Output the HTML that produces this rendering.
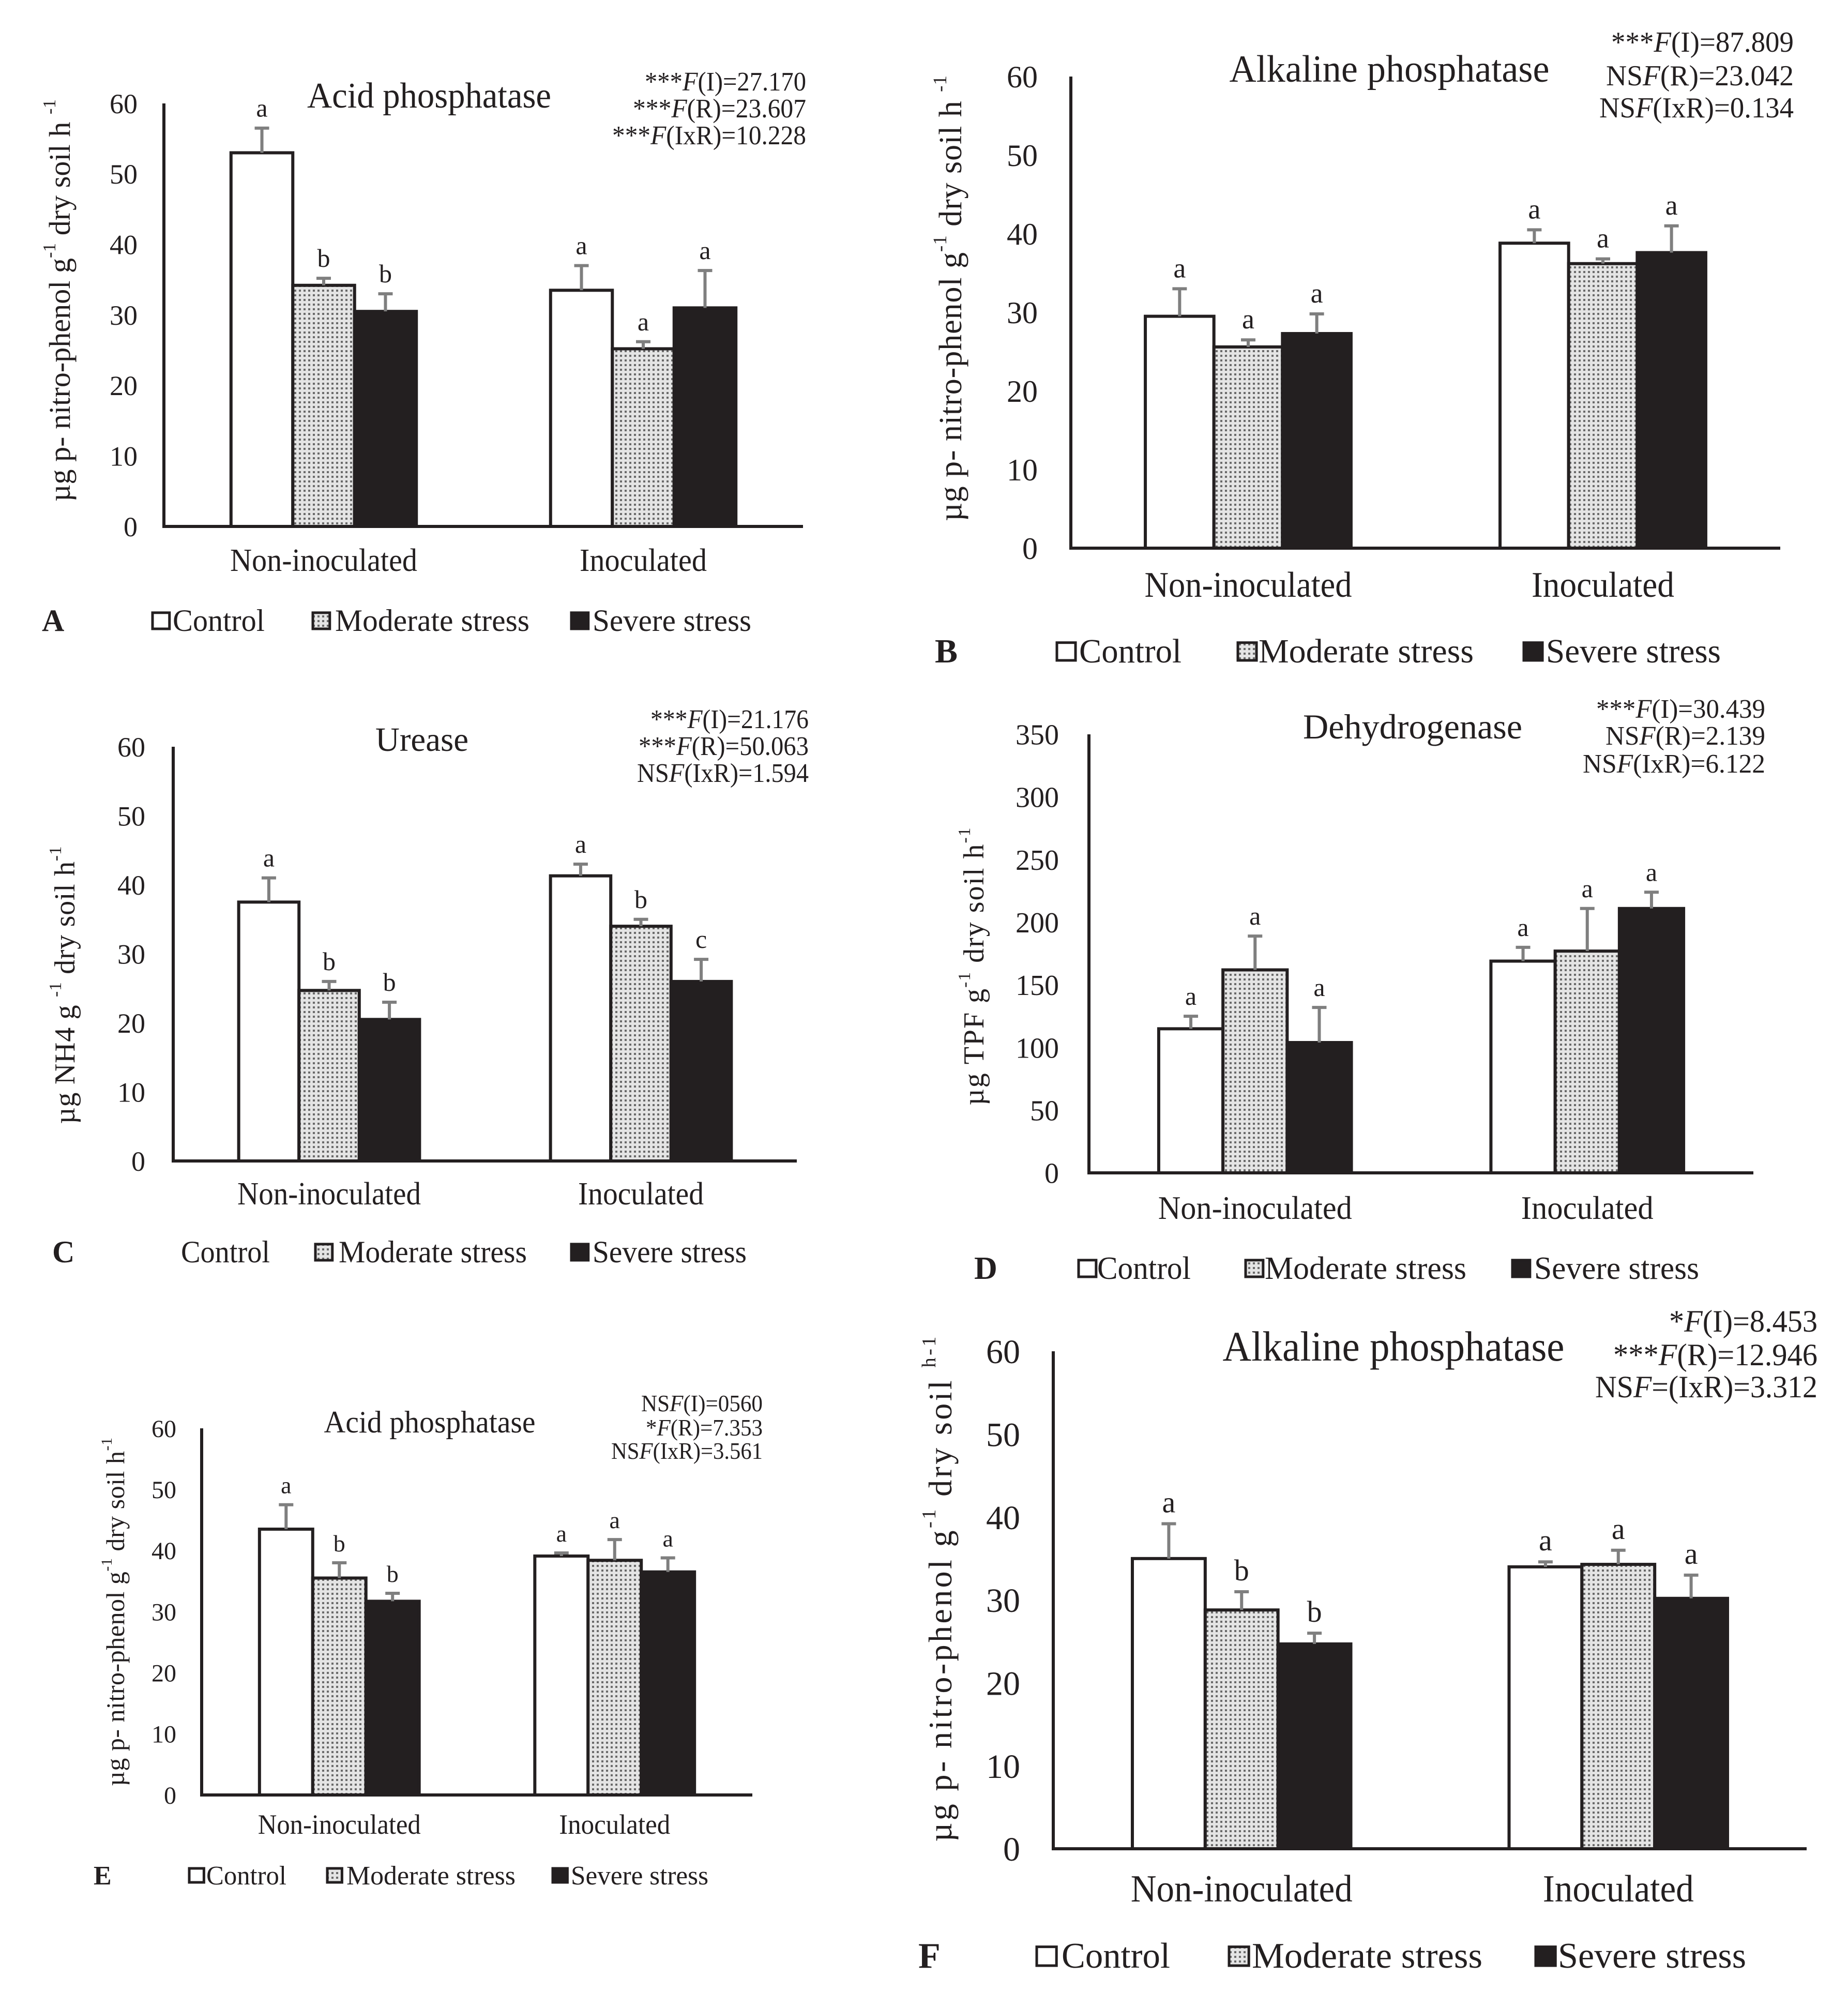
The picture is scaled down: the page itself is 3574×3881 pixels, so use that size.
<!DOCTYPE html>
<html><head><meta charset="utf-8"><style>
html,body{margin:0;padding:0;background:#fff;}
svg{display:block;font-family:"Liberation Serif","Times New Roman",serif;}
</style></head><body>
<svg id="fig" xmlns="http://www.w3.org/2000/svg" width="3574" height="3881" viewBox="0 0 3574 3881">
<defs>
<pattern id="dots" width="9" height="9" patternUnits="userSpaceOnUse">
<rect width="9" height="9" fill="#e4e4e4"/><rect x="2" y="2" width="4" height="4" fill="#6a6a6a"/>
</pattern>
</defs>
<rect width="3574" height="3881" fill="#fff"/>
</svg>
<script>
// ---------- DATA ----------
const categories = ["Non-inoculated","Inoculated"];
const seriesNames = ["Control","Moderate stress","Severe stress"];

const A_control = [53, 33.5];   const A_moderate = [34.2, 25.2]; const A_severe = [30.5, 31];
const A_errControl = [3.5, 3.5]; const A_errModerate = [1, 1];   const A_errSevere = [2.5, 5.3];
const A_letters = ["a","b","b","a","a","a"];
const A_ticks = [0,10,20,30,40,50,60];

const B_control = [29.5, 38.8]; const B_moderate = [25.6, 36.2]; const B_severe = [27.3, 37.6];
const B_errControl = [3.5, 1.7]; const B_errModerate = [0.9, 0.6]; const B_errSevere = [2.5, 3.4];
const B_letters = ["a","a","a","a","a","a"];
const B_ticks = [0,10,20,30,40,50,60];

const C_control = [37.5, 41.3]; const C_moderate = [24.7, 34]; const C_severe = [20.5, 26];
const C_errControl = [3.5, 1.7]; const C_errModerate = [1.3, 1]; const C_errSevere = [2.5, 3.2];
const C_letters = ["a","b","b","a","b","c"];
const C_ticks = [0,10,20,30,40,50,60];

const D_control = [115, 169]; const D_moderate = [162, 177]; const D_severe = [104, 211];
const D_errControl = [10, 11]; const D_errModerate = [27, 34]; const D_errSevere = [28, 13];
const D_letters = ["a","a","a","a","a","a"];
const D_ticks = [0,50,100,150,200,250,300,350];

const E_control = [43.5, 39.1]; const E_moderate = [35.5, 38.4]; const E_severe = [31.7, 36.5];
const E_errControl = [4, 0.5]; const E_errModerate = [2.5, 3.4]; const E_errSevere = [1.3, 2.3];
const E_letters = ["a","b","b","a","a","a"];
const E_ticks = [0,10,20,30,40,50,60];

const F_control = [35, 34]; const F_moderate = [28.8, 34.3]; const F_severe = [24.7, 30.2];
const F_errControl = [4.2, 0.6]; const F_errModerate = [2.2, 1.7]; const F_errSevere = [1.3, 2.8];
const F_letters = ["a","b","b","a","a","a"];
const F_ticks = [0,10,20,30,40,50,60];

// ---------- LAYOUT ----------
const NS = "http://www.w3.org/2000/svg";
const svg = document.getElementById("fig");
function el(tag, attrs, parent){ const e=document.createElementNS(NS,tag); for(const k in attrs) e.setAttribute(k,attrs[k]); (parent||svg).appendChild(e); return e; }

const panels = [
 {id:"a", letter:"A", vals:[A_control,A_moderate,A_severe], errs:[A_errControl,A_errModerate,A_errSevere], letters:A_letters, ticks:A_ticks,
  x0:317,x1:1553,yT:200,yB:1018, tickX:266,tickF:54, title:"Acid phosphatase", tX:830,tY:208,tF:70,tW:472,
  stats:[["***","F","(I)=27.170"],["***","F","(R)=23.607"],["***","F","(IxR)=10.228"]], sX:1559, sY:[175,227,279], sF:52, sW:[312,335,375],
  catY:1104,catF:62,catW:[362,246], legY:1220,legF:60, lX:81, boxes:[292,602,1102], texts:[334,648,1146], legW:[178,376,307], noBox:-1,
  yl:["µg p- nitro-phenol g","-1"," dry soil h ","-1"], ylX:115, ylY:581, ylF:58, ylW:778, letF:50},
 {id:"b", letter:"B", vals:[B_control,B_moderate,B_severe], errs:[B_errControl,B_errModerate,B_errSevere], letters:B_letters, ticks:B_ticks,
  x0:2071,x1:3443,yT:148,yB:1060, tickX:2007,tickF:60, title:"Alkaline phosphatase", tX:2687,tY:158,tF:74,tW:619,
  stats:[["***","F","(I)=87.809"],["NS","F","(R)=23.042"],["NS","F","(IxR)=0.134"]], sX:3469, sY:[100,165,227], sF:56, sW:[353,363,376],
  catY:1154,catF:70,catW:[401,276], legY:1281,legF:66, lX:1808, boxes:[2041,2391,2944], texts:[2087,2434,2990], legW:[198,416,338], noBox:-1,
  yl:["µg p- nitro-phenol g","-1"," dry soil h ","-1"], ylX:1839, ylY:577, ylF:62, ylW:862, letF:54},
 {id:"c", letter:"C", vals:[C_control,C_moderate,C_severe], errs:[C_errControl,C_errModerate,C_errSevere], letters:C_letters, ticks:C_ticks,
  x0:335,x1:1541,yT:1444,yB:2245, tickX:281,tickF:54, title:"Urease", tX:816,tY:1452,tF:66,tW:180,
  stats:[["***","F","(I)=21.176"],["***","F","(R)=50.063"],["NS","F","(IxR)=1.594"]], sX:1564, sY:[1408,1460,1512], sF:52, sW:[306,329,332],
  catY:2329,catF:62,catW:[355,243], legY:2441,legF:60, lX:101, boxes:[-1,607,1102], texts:[350,655,1146], legW:[172,364,298], noBox:0,
  yl:["µg NH4 g ","-1"," dry soil h","-1"], ylX:126, ylY:1905, ylF:56, ylW:537, letF:50},
 {id:"d", letter:"D", vals:[D_control,D_moderate,D_severe], errs:[D_errControl,D_errModerate,D_errSevere], letters:D_letters, ticks:D_ticks,
  x0:2106,x1:3391,yT:1420,yB:2268, tickX:2048,tickF:56, title:"Dehydrogenase", tX:2732,tY:1428,tF:68,tW:424,
  stats:[["***","F","(I)=30.439"],["NS","F","(R)=2.139"],["NS","F","(IxR)=6.122"]], sX:3414, sY:[1388,1440,1494], sF:52, sW:[327,309,353],
  catY:2357,catF:64,catW:[375,256], legY:2473,legF:62, lX:1884, boxes:[2083,2406,2922], texts:[2122,2446,2967], legW:[181,390,319], noBox:-1,
  yl:["µg TPF g","-1"," dry soil h","-1"], ylX:1884, ylY:1869, ylF:56, ylW:537, letF:50},
 {id:"e", letter:"E", vals:[E_control,E_moderate,E_severe], errs:[E_errControl,E_errModerate,E_errSevere], letters:E_letters, ticks:E_ticks,
  x0:390,x1:1455,yT:2762,yB:3471, tickX:341,tickF:48, title:"Acid phosphatase", tX:831,tY:2770,tF:60,tW:409,
  stats:[["NS","F","(I)=0560"],["*","F","(R)=7.353"],["NS","F","(IxR)=3.561"]], sX:1475, sY:[2729,2776,2821], sF:46, sW:[235,226,293],
  catY:3546,catF:54,catW:[315,215], legY:3644,legF:52, lX:181, boxes:[363,630,1066], texts:[399,670,1104], legW:[155,327,266], noBox:-1,
  yl:["µg p- nitro-phenol g","-1"," dry soil h","-1"], ylX:223, ylY:3117, ylF:50, ylW:674, letF:46},
 {id:"f", letter:"F", vals:[F_control,F_moderate,F_severe], errs:[F_errControl,F_errModerate,F_errSevere], letters:F_letters, ticks:F_ticks,
  x0:2037,x1:3494,yT:2613,yB:3575, tickX:1973,tickF:66, title:"Alkaline phosphatase", tX:2695,tY:2631,tF:82,tW:661,
  stats:[["*","F","(I)=8.453"],["***","F","(R)=12.946"],["NS","F","=(IxR)=3.312"]], sX:3515, sY:[2575,2640,2702], sF:60, sW:[287,395,430],
  catY:3677,catF:74,catW:[429,292], legY:3805,legF:70, lX:1776, boxes:[2002,2374,2967], texts:[2053,2421,3013], legW:[210,446,364], noBox:-1,
  yl:["µg p- nitro-phenol g","-1"," dry soil ","h-1"], ylX:1818, ylY:3073, ylF:64, ylW:977, letF:58}
];
const fills = ["#ffffff","url(#dots)","#231f20"];

panels.forEach(p=>{
  const g = el("g",{});
  
  
  const maxV = p.ticks[p.ticks.length-1];
  const yS = v => p.yB - v/maxV*(p.yB-p.yT);
  const band = (p.x1-p.x0)/categories.length;
  const bw = band*0.58/3;
  const xC = gi => p.x0 + band*(gi+0.5);
  const xBar = (gi,si) => xC(gi) - 1.5*bw + si*bw;

  p.ticks.forEach(t=>{
    const tx = el("text",{x:p.tickX,y:yS(t)+p.tickF*0.35,"font-size":p.tickF,"text-anchor":"end",fill:"#231f20"},g);
    tx.textContent = t;
    
    
  });
  categories.forEach((c,gi)=>{
    [0,1,2].forEach(si=>{
      const v = p.vals[si][gi], e = p.errs[si][gi];
      const x = xBar(gi,si), y = yS(v);
      const r = el("rect",{x:x,y:y,width:bw,height:p.yB-y,fill:fills[si],stroke:"#231f20","stroke-width":6},g);
      
      
      const cx = x+bw/2, yt = yS(v+e);
      const eb = el("path",{d:`M${cx},${y} V${yt} M${cx-14},${yt} H${cx+14}`,stroke:"#7f7f7f","stroke-width":6,fill:"none"},g);
      
      
      const lt = el("text",{x:cx,y:yt-22,"font-size":p.letF,"text-anchor":"middle",fill:"#231f20"},g);
      lt.textContent = p.letters[gi*3+si];
      
      
    });
    const ct = el("text",{x:xC(gi),y:p.catY,"font-size":p.catF,"text-anchor":"middle",fill:"#231f20",textLength:p.catW[gi],lengthAdjust:"spacingAndGlyphs"},g);
    ct.textContent = c;
    
    
  });
  const ax = el("path",{d:`M${p.x0},${p.yT} V${p.yB} H${p.x1}`,stroke:"#231f20","stroke-width":6,fill:"none"},g);
  
  
  const ti = el("text",{x:p.tX,y:p.tY,"font-size":p.tF,"text-anchor":"middle",fill:"#231f20",textLength:p.tW,lengthAdjust:"spacingAndGlyphs"},g);
  ti.textContent = p.title;
  
  
  p.stats.forEach((s,i)=>{
    const st = el("text",{x:p.sX,y:p.sY[i],"font-size":p.sF,"text-anchor":"end",fill:"#231f20",textLength:p.sW[i],lengthAdjust:"spacingAndGlyphs"},g);
    const t1=el("tspan",{},st); t1.textContent=s[0];
    const t2=el("tspan",{"font-style":"italic"},st); t2.textContent=s[1];
    const t3=el("tspan",{},st); t3.textContent=s[2];
    
    
  });
  const yl = el("text",{x:0,y:0,"font-size":p.ylF,"text-anchor":"middle","dominant-baseline":"central",fill:"#231f20",
     transform:`translate(${p.ylX},${p.ylY}) rotate(-90)`,textLength:p.ylW,lengthAdjust:"spacing"},g);
  p.yl.forEach((part,i)=>{
    const ts = el("tspan",i%2===1?{"font-size":p.ylF*0.6,"baseline-shift":"super"}:{},yl);
    ts.textContent = part;
  });
  
  
  const pl = el("text",{x:p.lX,y:p.legY,"font-size":p.legF,"font-weight":"bold",fill:"#231f20"},g);
  pl.textContent = p.letter;
  
  
  seriesNames.forEach((n,si)=>{
    const lg = el("g",{},g);
    
    
    if(si!==p.noBox){
      const bh = p.legF*0.52;
      el("rect",{x:p.boxes[si]+3,y:p.legY-4-bh,width:bh*1.05,height:bh,fill:fills[si],stroke:"#231f20","stroke-width":5},lg);
    }
    const lt = el("text",{x:p.texts[si],y:p.legY,"font-size":p.legF,fill:"#231f20",textLength:p.legW[si],lengthAdjust:"spacingAndGlyphs"},lg);
    lt.textContent = n;
  });
});
</script>
</body></html>
